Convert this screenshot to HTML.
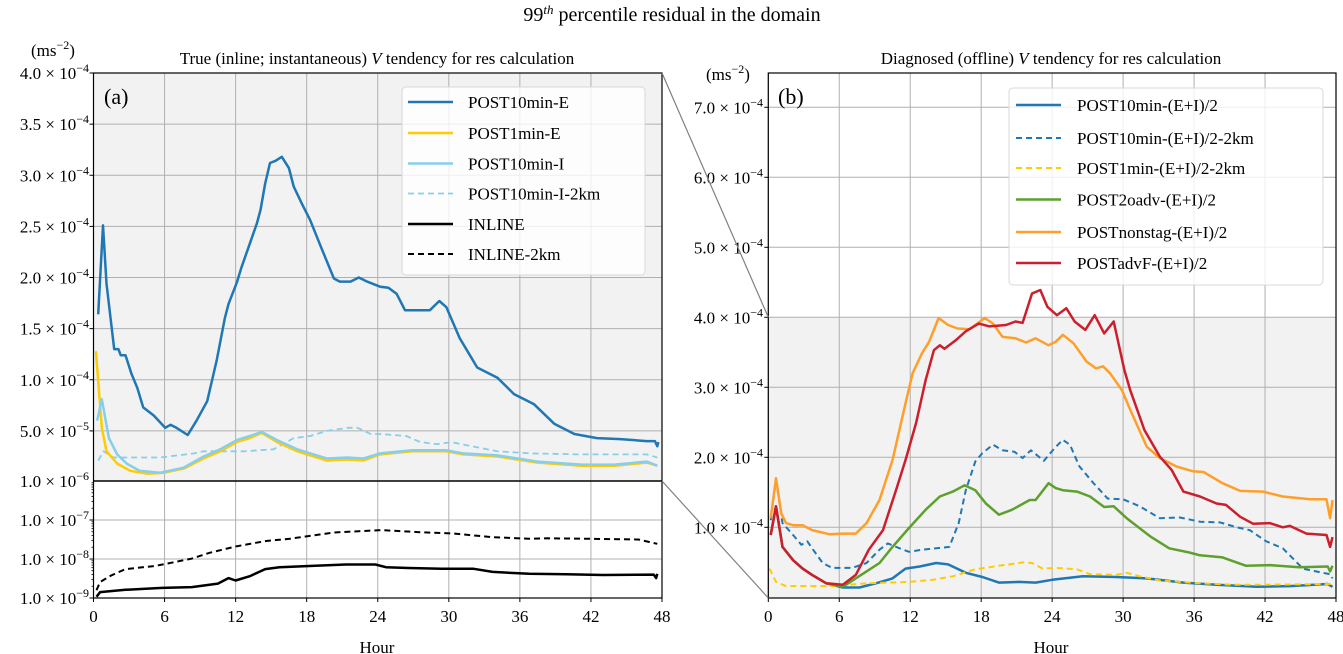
<!DOCTYPE html>
<html><head><meta charset="utf-8">
<style>
html,body{margin:0;padding:0;background:#fff;}
svg{display:block;font-family:"Liberation Serif","DejaVu Serif",serif;}
</style></head>
<body>
<svg id="fig" width="1343" height="654" viewBox="0 0 1343 654" xmlns="http://www.w3.org/2000/svg">
<text x="672" y="21" font-size="20" text-anchor="middle">99<tspan font-size="13" baseline-shift="super" font-style="italic">th</tspan> percentile residual in the domain</text>
<g id="left"></g>
<g id="right"></g>
</svg>
<script>
// ---------- Panel (a) data ----------
const aE_h=[0.4,0.8,1.1,1.75,2.1,2.3,2.7,3.2,3.7,4.2,5.1,6.05,6.5,7.0,7.95,8.7,9.6,10.4,11.1,11.4,12.1,12.5,13.1,13.8,14.1,14.5,14.9,15.35,15.9,16.5,16.9,17.6,18.3,19.2,20.3,20.8,21.7,22.4,23.1,24.2,24.9,25.6,26.3,27.5,28.4,29.2,29.8,30.9,32.4,34.1,35.5,37.2,38.9,40.6,42.5,44.5,46.7,47.4,47.6,47.7];
const aE_v=[1.64,2.51,1.94,1.30,1.30,1.24,1.24,1.06,0.92,0.73,0.65,0.53,0.56,0.53,0.46,0.60,0.79,1.19,1.61,1.74,1.95,2.10,2.30,2.53,2.66,2.92,3.12,3.14,3.18,3.07,2.89,2.72,2.56,2.30,1.99,1.96,1.96,2.00,1.96,1.91,1.90,1.84,1.68,1.68,1.68,1.77,1.71,1.41,1.12,1.02,0.86,0.76,0.57,0.47,0.43,0.42,0.40,0.40,0.35,0.39];
const a1E_h=[0.2,0.7,1.1,2.0,3.1,4.6,5.9,7.6,9.3,10.7,12.1,13.2,14.2,15.5,17.2,19.7,21.4,22.8,24.2,26.9,29.8,31.2,34.1,37.5,41.2,44.0,46.7,47.6];
const a1E_v=[1.28,0.53,0.30,0.18,0.11,0.08,0.09,0.13,0.23,0.30,0.39,0.43,0.48,0.39,0.30,0.21,0.22,0.21,0.27,0.30,0.30,0.27,0.25,0.19,0.16,0.16,0.19,0.16];
const aI_h=[0.3,0.7,1.3,2.0,2.8,3.9,5.6,7.6,9.3,10.7,12.1,13.2,14.2,15.5,17.2,19.7,21.4,22.8,24.2,26.9,29.8,31.2,34.1,37.5,41.2,44.0,46.7,47.6];
const aI_v=[0.60,0.81,0.43,0.27,0.18,0.11,0.09,0.14,0.25,0.32,0.41,0.45,0.49,0.41,0.32,0.23,0.24,0.23,0.28,0.31,0.31,0.28,0.26,0.20,0.17,0.17,0.20,0.16];
const aI2_h=[0.4,0.85,1.7,5.6,8.5,9.3,12.7,15.2,16.9,18.3,19.7,21.4,22.3,23.4,24.2,26.4,27.6,29.0,30.2,31.5,34.1,36.9,41.2,46.7,47.6];
const aI2_v=[0.21,0.30,0.24,0.24,0.28,0.30,0.30,0.32,0.43,0.45,0.50,0.53,0.53,0.47,0.47,0.45,0.39,0.37,0.39,0.36,0.30,0.28,0.27,0.27,0.24];
const inl_h=[0.25,0.56,2.7,5.8,8.3,10.5,11.4,12.0,13.2,14.5,15.7,18.2,21.3,23.8,24.7,26.6,29.4,32.1,33.7,36.8,39.9,43.0,47.3,47.5,47.6];
const inl_log=[-8.97,-8.85,-8.79,-8.74,-8.72,-8.63,-8.49,-8.55,-8.44,-8.26,-8.21,-8.18,-8.14,-8.14,-8.21,-8.23,-8.25,-8.25,-8.33,-8.38,-8.39,-8.41,-8.40,-8.49,-8.38];
const inl2_h=[0.25,0.56,1.5,2.7,5.2,8.3,9.8,12.0,14.5,16.6,18.2,20.3,24.3,27.4,30.5,33.7,36.8,38.3,41.4,46.0,47.6];
const inl2_log=[-8.80,-8.59,-8.42,-8.26,-8.18,-7.99,-7.84,-7.68,-7.54,-7.48,-7.41,-7.32,-7.26,-7.31,-7.35,-7.44,-7.48,-7.47,-7.48,-7.50,-7.61];
const aLinTicks=[0.5,1.0,1.5,2.0,2.5,3.0,3.5,4.0];
const aLinLabels=["5.0","1.0","1.5","2.0","2.5","3.0","3.5","4.0"];
const aLinExp=["−5","−4","−4","−4","−4","−4","−4","−4"];
const aLogTicks=[-9,-8,-7];
const hourTicks=[0,6,12,18,24,30,36,42,48];

// ---------- Panel (b) data ----------
const bB_h=[0.2,0.65,1.2,2.1,2.9,3.7,4.9,6.3,7.7,9.1,10.5,11.6,12.8,14.2,15.2,16.7,18.1,19.5,21.2,22.6,24.0,26.6,29.4,32.0,35.1,37.9,41.3,44.1,47.3,47.7];
const bB_v=[0.89,1.30,0.72,0.53,0.41,0.32,0.20,0.14,0.14,0.20,0.27,0.41,0.44,0.49,0.47,0.35,0.29,0.21,0.22,0.21,0.25,0.30,0.29,0.27,0.21,0.18,0.15,0.16,0.19,0.15];
const bBd_h=[0.2,0.65,1.2,2.1,2.8,3.3,3.7,4.6,5.4,7.1,8.3,9.4,10.1,11.1,11.9,13.0,15.3,16.1,16.7,17.5,18.1,19.0,19.8,20.8,21.5,22.2,23.3,24.2,24.9,25.5,26.3,27.5,28.7,30.0,31.4,33.1,34.8,36.5,38.2,39.6,40.7,42.1,43.5,45.2,46.3,47.5,47.7];
const bBd_v=[1.10,1.68,1.06,0.89,0.75,0.80,0.70,0.49,0.42,0.42,0.49,0.68,0.77,0.70,0.65,0.68,0.72,1.06,1.53,1.94,2.06,2.18,2.10,2.08,1.99,2.10,1.95,2.13,2.25,2.18,1.87,1.63,1.41,1.40,1.30,1.13,1.14,1.08,1.07,1.00,0.96,0.80,0.70,0.41,0.37,0.33,0.27];
const bY_h=[0.1,0.65,1.5,5.4,8.3,11.9,13.9,15.6,17.5,19.5,21.6,22.3,23.2,24.3,26.1,27.2,29.4,30.3,31.4,33.1,36.5,39.3,42.1,47.7];
const bY_v=[0.41,0.22,0.16,0.16,0.20,0.22,0.25,0.30,0.40,0.45,0.50,0.49,0.41,0.42,0.40,0.33,0.32,0.35,0.30,0.24,0.20,0.18,0.18,0.19];
const bG_h=[0.2,0.65,1.2,2.1,2.9,3.7,4.9,6.3,8.3,9.4,10.5,11.9,13.3,14.5,15.6,16.6,17.5,18.4,19.5,20.6,22.1,22.6,23.7,24.3,24.9,26.1,27.2,28.4,29.2,30.3,32.3,33.9,35.6,36.5,38.4,40.4,42.4,44.9,47.3,47.5,47.7];
const bG_v=[0.89,1.30,0.72,0.53,0.41,0.32,0.20,0.15,0.37,0.49,0.72,0.99,1.25,1.44,1.51,1.60,1.53,1.34,1.18,1.25,1.39,1.39,1.63,1.56,1.53,1.51,1.44,1.29,1.30,1.13,0.87,0.70,0.64,0.60,0.57,0.45,0.46,0.43,0.44,0.37,0.45];
const bO_h=[0.2,0.65,1.1,1.5,2.1,2.9,3.7,5.2,6.3,7.4,8.3,9.4,10.5,11.6,12.2,13.0,13.6,14.4,15.2,16.0,17.0,17.5,18.3,19.0,19.8,20.9,21.8,22.6,23.7,24.3,24.9,25.8,26.9,27.7,28.3,28.9,29.9,30.6,32.0,33.1,34.5,35.9,36.8,38.4,39.9,41.8,43.5,45.8,47.2,47.5,47.7];
const bO_v=[1.13,1.70,1.20,1.06,1.03,1.03,0.96,0.90,0.91,0.91,1.06,1.39,1.96,2.77,3.20,3.49,3.65,3.99,3.89,3.84,3.83,3.89,3.99,3.91,3.72,3.70,3.64,3.70,3.60,3.65,3.75,3.63,3.37,3.27,3.30,3.20,2.96,2.68,2.15,1.99,1.87,1.80,1.79,1.63,1.52,1.51,1.44,1.40,1.40,1.13,1.39];
const bR_h=[0.2,0.65,1.2,2.1,2.9,3.7,4.9,6.3,7.4,8.5,9.7,10.8,11.6,12.5,13.3,14.0,14.5,14.9,15.9,16.7,17.8,18.7,20.1,20.9,21.5,22.3,23.0,23.6,24.4,25.2,25.9,26.8,27.6,28.4,29.2,30.1,30.6,31.8,33.1,34.1,35.1,36.5,37.9,38.7,39.9,41.0,42.4,43.5,44.1,45.5,47.2,47.5,47.7];
const bR_v=[0.89,1.30,0.72,0.53,0.41,0.32,0.20,0.18,0.32,0.68,0.96,1.53,1.96,2.49,3.10,3.53,3.60,3.55,3.68,3.80,3.91,3.87,3.89,3.94,3.92,4.34,4.39,4.15,4.03,4.13,3.94,3.82,4.03,3.77,3.94,3.25,2.96,2.39,2.01,1.82,1.51,1.44,1.34,1.32,1.15,1.05,1.06,1.00,1.02,0.91,0.89,0.72,0.86];
const bTicks=[1,2,3,4,5,6,7];

// ---------- helpers ----------
const NS="http://www.w3.org/2000/svg";
function mk(tag,attrs,parent){const e=document.createElementNS(NS,tag);for(const k in attrs)e.setAttribute(k,attrs[k]);parent.appendChild(e);return e;}
// Panel a geometry
const aX0=93.5,aX1=662,aTop=73,aMid=481,aBot=598;
const ax=h=>aX0+h*(aX1-aX0)/48;
const ayLin=v=>aMid-(v-0.01)*(aMid-aTop)/3.99;   // v in 1e-4
const ayLog=l=>aBot-(l+9)*(aBot-aMid)/3;
// Panel b geometry
const bX0=768.3,bX1=1336,bTop=73,bBot=598;
const bx=h=>bX0+h*(bX1-bX0)/48;
const by=v=>597.3-v*70;
function pathD(hs,vs,fx,fy){return hs.map((h,i)=>(i?'L':'M')+fx(h).toFixed(1)+','+fy(vs[i]).toFixed(1)).join(' ');}
function tickLabel(parent,x,y,mant,exp,name){
  const t=mk('text',{x:x,y:y,'font-size':'17','text-anchor':'end'},parent);
  
  
  t.textContent=mant+' × 10';
  const s=mk('tspan',{'font-size':'12',dy:'-7'},t);
  s.textContent=exp;
  return t;
}

const L=document.getElementById('left'), R=document.getElementById('right');

// ===== Panel a =====
const bgA=mk('rect',{x:aX0,y:aTop,width:aX1-aX0,height:aMid-aTop,fill:'#f2f2f2'},L);


hourTicks.forEach(h=>{
  const g=mk('line',{x1:ax(h),x2:ax(h),y1:aTop,y2:aBot,stroke:'#b0b0b0','stroke-width':1},L);
  
  
});
aLinTicks.forEach(v=>{
  const g=mk('line',{x1:aX0,x2:aX1,y1:ayLin(v),y2:ayLin(v),stroke:'#b0b0b0','stroke-width':1},L);
  
  
});
aLogTicks.forEach(l=>{
  const g=mk('line',{x1:aX0,x2:aX1,y1:ayLog(l),y2:ayLog(l),stroke:'#b0b0b0','stroke-width':1},L);
  
  
});
function seriesA(hs,vs,fy,color,dash,w,name){
  const p=mk('path',{d:pathD(hs,vs,ax,fy),fill:'none',stroke:color,'stroke-width':w,'stroke-linejoin':'round'},L);
  if(dash)p.setAttribute('stroke-dasharray',dash);
  
  
}
seriesA(aI2_h,aI2_v,ayLin,'#87ceeb','6,4',1.8,'line-post10min-i-2km');
seriesA(a1E_h,a1E_v,ayLin,'#ffcc00','',2.5,'line-post1min-e');
seriesA(aI_h,aI_v,ayLin,'#87ceeb','',2.5,'line-post10min-i');
seriesA(aE_h,aE_v,ayLin,'#1f77b4','',2.5,'line-post10min-e');
seriesA(inl2_h,inl2_log,ayLog,'#000','6,4',2,'line-inline-2km');
seriesA(inl_h,inl_log,ayLog,'#000','',2.5,'line-inline');
// frame
const fa=mk('rect',{x:aX0,y:aTop,width:aX1-aX0,height:aBot-aTop,fill:'none',stroke:'#000','stroke-width':1.2},L);


const sep=mk('line',{x1:aX0,x2:aX1,y1:aMid,y2:aMid,stroke:'#000','stroke-width':1.5},L);


// y tick labels a
aLinTicks.forEach((v,i)=>{
  mk('line',{x1:aX0-4,x2:aX0,y1:ayLin(v),y2:ayLin(v),stroke:'#000'},L);
  tickLabel(L,89,ayLin(v)+6,aLinLabels[i],aLinExp[i],'y-tick-label');
});
tickLabel(L,89,aMid+6,'1.0','−6','y-tick-label');
aLogTicks.forEach(l=>{
  mk('line',{x1:aX0-4,x2:aX0,y1:ayLog(l),y2:ayLog(l),stroke:'#000'},L);
  tickLabel(L,89,ayLog(l)+6,'1.0',String(l).replace('-','−'),'y-tick-label');
  if(l<-6){for(let k=2;k<10;k++){const yy=ayLog(l+Math.log10(k));mk('line',{x1:aX0-2,x2:aX0,y1:yy,y2:yy,stroke:'#000','stroke-width':0.8},L);}}
});
hourTicks.forEach(h=>{
  mk('line',{x1:ax(h),x2:ax(h),y1:aBot,y2:aBot+4,stroke:'#000'},L);
  const t=mk('text',{x:ax(h),y:622,'font-size':'17','text-anchor':'middle'},L);
  
  
  t.textContent=h;
});

// ===== Panel b =====
const bgB=mk('rect',{x:bX0,y:by(4),width:bX1-bX0,height:bBot-by(4),fill:'#f2f2f2'},R);


hourTicks.forEach(h=>{
  const g=mk('line',{x1:bx(h),x2:bx(h),y1:bTop,y2:bBot,stroke:'#b0b0b0','stroke-width':1},R);
  
  
});
bTicks.forEach(v=>{
  const g=mk('line',{x1:bX0,x2:bX1,y1:by(v),y2:by(v),stroke:'#b0b0b0','stroke-width':1},R);
  
  
});
function seriesB(hs,vs,color,dash,w,name){
  const p=mk('path',{d:pathD(hs,vs,bx,by),fill:'none',stroke:color,'stroke-width':w,'stroke-linejoin':'round'},R);
  if(dash)p.setAttribute('stroke-dasharray',dash);
  
  
}
seriesB(bB_h,bB_v,'#1f77b4','',2.5,'line-post10min-ei2');
seriesB(bBd_h,bBd_v,'#1f77b4','6,4',2,'line-post10min-ei2-2km');
seriesB(bY_h,bY_v,'#ffcc00','6,4',2,'line-post1min-ei2-2km');
seriesB(bG_h,bG_v,'#5da02e','',2.5,'line-post2oadv-ei2');
seriesB(bO_h,bO_v,'#ff9f2a','',2.5,'line-postnonstag-ei2');
seriesB(bR_h,bR_v,'#cc1f2e','',2.5,'line-postadvf-ei2');
const fb=mk('rect',{x:bX0,y:bTop,width:bX1-bX0,height:bBot-bTop,fill:'none',stroke:'#000','stroke-width':1.2},R);


bTicks.forEach(v=>{
  mk('line',{x1:bX0-4,x2:bX0,y1:by(v),y2:by(v),stroke:'#000'},R);
  tickLabel(R,763,by(v)+6,v.toFixed(1),'−4','y-tick-label');
});
hourTicks.forEach(h=>{
  mk('line',{x1:bx(h),x2:bx(h),y1:bBot,y2:bBot+4,stroke:'#000'},R);
  const t=mk('text',{x:bx(h),y:622,'font-size':'17','text-anchor':'middle'},R);
  
  
  t.textContent=h;
});
// connector lines
const c1=mk('line',{x1:aX1,y1:aTop,x2:bX0,y2:by(4),stroke:'#808080','stroke-width':1.2},R);


const c2=mk('line',{x1:aX1,y1:aMid,x2:bX0,y2:bBot,stroke:'#808080','stroke-width':1.2},R);


</script>
<svg width="0" height="0"></svg>
<script>
// static labels and legends
(function(){
const NS="http://www.w3.org/2000/svg";
const fig=document.getElementById('fig');
fig.insertAdjacentHTML('beforeend',`
<text x="377" y="64" font-size="17" text-anchor="middle">True (inline; instantaneous) <tspan font-style="italic">V</tspan> tendency for res calculation</text>
<text x="1051" y="64" font-size="17" text-anchor="middle">Diagnosed (offline) <tspan font-style="italic">V</tspan> tendency for res calculation</text>
<text x="31" y="56" font-size="17">(ms<tspan font-size="12" dy="-7">−2</tspan><tspan dy="7">)</tspan></text>
<text x="706" y="80" font-size="17">(ms<tspan font-size="12" dy="-7">−2</tspan><tspan dy="7">)</tspan></text>
<text x="104" y="104" font-size="22">(a)</text>
<text x="778" y="104" font-size="22">(b)</text>
<text x="377" y="653" font-size="17" text-anchor="middle">Hour</text>
<text x="1051" y="653" font-size="17" text-anchor="middle">Hour</text>
<g>
<rect x="402" y="87" width="243" height="188" rx="4" fill="#fff" fill-opacity="0.8" stroke="#d8d8d8"/>
<g><line x1="408" x2="453" y1="102" y2="102" stroke="#1f77b4" stroke-width="2.5"/><text x="468" y="108" font-size="17">POST10min-E</text></g>
<g><line x1="408" x2="453" y1="133" y2="133" stroke="#ffcc00" stroke-width="2.5"/><text x="468" y="139" font-size="17">POST1min-E</text></g>
<g><line x1="408" x2="453" y1="163.5" y2="163.5" stroke="#87ceeb" stroke-width="2.5"/><text x="468" y="169.5" font-size="17">POST10min-I</text></g>
<g><line x1="408" x2="453" y1="193.5" y2="193.5" stroke="#87ceeb" stroke-width="1.8" stroke-dasharray="6,4"/><text x="468" y="199.5" font-size="17">POST10min-I-2km</text></g>
<g><line x1="408" x2="453" y1="224" y2="224" stroke="#000" stroke-width="2.5"/><text x="468" y="230" font-size="17">INLINE</text></g>
<g><line x1="408" x2="453" y1="254" y2="254" stroke="#000" stroke-width="2" stroke-dasharray="6,4"/><text x="468" y="260" font-size="17">INLINE-2km</text></g>
</g>
<g>
<rect x="1009" y="88" width="314" height="197" rx="4" fill="#fff" fill-opacity="0.8" stroke="#d8d8d8"/>
<g><line x1="1016" x2="1061" y1="105" y2="105" stroke="#1f77b4" stroke-width="2.5"/><text x="1077" y="111" font-size="17">POST10min-(E+I)/2</text></g>
<g><line x1="1016" x2="1061" y1="138" y2="138" stroke="#1f77b4" stroke-width="2" stroke-dasharray="6,4"/><text x="1077" y="144" font-size="17">POST10min-(E+I)/2-2km</text></g>
<g><line x1="1016" x2="1061" y1="168" y2="168" stroke="#ffcc00" stroke-width="2" stroke-dasharray="6,4"/><text x="1077" y="174" font-size="17">POST1min-(E+I)/2-2km</text></g>
<g><line x1="1016" x2="1061" y1="199.5" y2="199.5" stroke="#5da02e" stroke-width="2.5"/><text x="1077" y="205.5" font-size="17">POST2oadv-(E+I)/2</text></g>
<g><line x1="1016" x2="1061" y1="232" y2="232" stroke="#ff9f2a" stroke-width="2.5"/><text x="1077" y="238" font-size="17">POSTnonstag-(E+I)/2</text></g>
<g><line x1="1016" x2="1061" y1="263" y2="263" stroke="#cc1f2e" stroke-width="2.5"/><text x="1077" y="269" font-size="17">POSTadvF-(E+I)/2</text></g>
</g>`);
})();
</script>
</body></html>
